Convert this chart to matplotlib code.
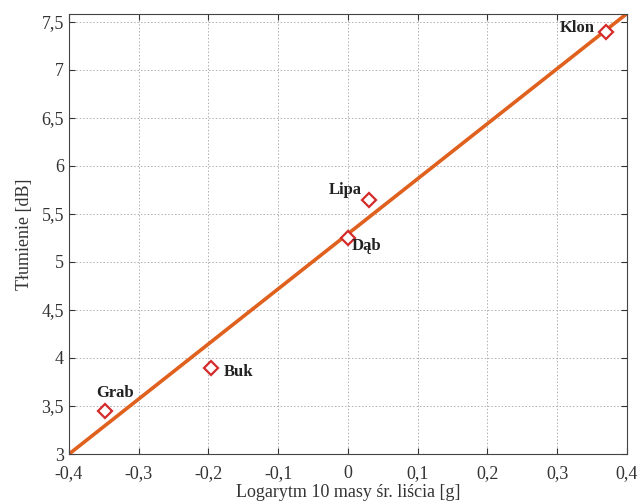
import numpy as np
import matplotlib.pyplot as plt
from matplotlib.ticker import FuncFormatter

plt.rcParams['font.family'] = ['Liberation Serif', 'DejaVu Serif']

# dane
gatunki = ['Grab', 'Buk', 'Dąb', 'Lipa', 'Klon']
log_masa = [-0.348, -0.196, 0.0, 0.03, 0.37]
tlumienie = [3.448, 3.896, 5.25, 5.646, 7.396]

# przesunięcia etykiet (punkty)
offsety = [(7, 13), (20, -3), (13, -6), (-17, 7), (-21, 3)]


def przecinek(v, p):
    v = round(v, 2)
    if v == 0:
        v = 0.0
    return ('%g' % v).replace('.', ',')


fig = plt.figure(figsize=(6.41, 5.04), dpi=100)
ax = fig.add_axes([0.1076, 0.0992, 0.8704, 0.8728])

# prosta regresji
a, b = np.polyfit(log_masa, tlumienie, 1)
xl = np.array([-0.4, 0.4])
ax.plot(xl, a * xl + b, color='#e0601e', lw=2.6, zorder=2)

ax.plot(log_masa, tlumienie, linestyle='none', marker='D', ms=7,
        mfc='white', mec='#d42a2a', mew=1.6, zorder=3)

for g, x, y, off in zip(gatunki, log_masa, tlumienie, offsety):
    ax.annotate(g, (x, y), xytext=off, textcoords='offset points',
                ha='center', va='center', fontsize=12, fontweight='bold',
                color='#222222')

ax.set_xlim(-0.4, 0.4)
ax.set_ylim(3, 7.58)
ax.set_xticks(np.arange(-0.4, 0.41, 0.1))
ax.set_yticks(np.arange(3, 7.51, 0.5))

fmt = FuncFormatter(przecinek)
ax.xaxis.set_major_formatter(fmt)
ax.yaxis.set_major_formatter(fmt)

ax.grid(True, linestyle=(0, (1.5, 2)), color='#b0b0b0', lw=0.7)
ax.tick_params(direction='in', top=True, right=True, labelsize=13,
               colors='#333333', length=4)
ax.tick_params(axis='x', pad=8)
for s in ax.spines.values():
    s.set_color('#444444')

ax.set_xlabel('Logarytm 10 masy śr. liścia [g]', fontsize=13, color='#333333', labelpad=1)
ax.set_ylabel('Tłumienie [dB]', fontsize=13, color='#333333', labelpad=6)

fig.savefig('out.png', dpi=100)
